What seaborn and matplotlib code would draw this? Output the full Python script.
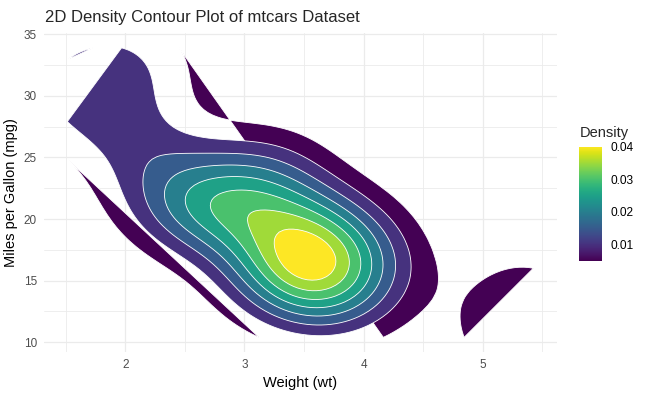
import numpy as np
import matplotlib
matplotlib.use("Agg")
import matplotlib.pyplot as plt
import seaborn as sns
import contourpy

# mtcars: weight (1000 lbs) and miles per gallon
wt = [2.620, 2.875, 2.320, 3.215, 3.440, 3.460, 3.570, 3.190, 3.150, 3.440,
      3.440, 4.070, 3.730, 3.780, 5.250, 5.424, 5.345, 2.200, 1.615, 1.835,
      2.465, 3.520, 3.435, 3.840, 3.845, 1.935, 2.140, 1.513, 3.170, 2.770,
      3.570, 2.780]
mpg = [21.0, 21.0, 22.8, 21.4, 18.7, 18.1, 14.3, 24.4, 22.8, 19.2,
       17.8, 16.4, 17.3, 15.2, 10.4, 10.4, 14.7, 32.4, 30.4, 33.9,
       21.5, 15.5, 15.2, 13.3, 19.2, 27.3, 26.0, 30.4, 15.8, 19.7,
       15.0, 21.4]

# contour breaks (legend runs 0.005 .. 0.04)
levels = [0.005, 0.010, 0.015, 0.020, 0.025, 0.030, 0.035, 0.040]
cbar_ticks = [0.01, 0.02, 0.03, 0.04]
cbar_labels = ["0.01", "0.02", "0.03", "0.04"]

TITLE = "2D Density Contour Plot of mtcars Dataset"


def bw_nrd(v):
    # same rule as MASS::bandwidth.nrd
    q1, q3 = np.percentile(v, [25, 75])
    return 4 * 1.06 * min(np.std(v, ddof=1), (q3 - q1) / 1.34) * len(v) ** -0.2


def kde2d(x, y, n=100):
    # axis aligned gaussian kde on the data range (like MASS::kde2d)
    x = np.asarray(x)
    y = np.asarray(y)
    gx = np.linspace(x.min(), x.max(), n)
    gy = np.linspace(y.min(), y.max(), n)
    hx, hy = bw_nrd(x) / 4, bw_nrd(y) / 4
    dx = np.exp(-0.5 * ((gx[:, None] - x[None, :]) / hx) ** 2) / np.sqrt(2 * np.pi)
    dy = np.exp(-0.5 * ((gy[:, None] - y[None, :]) / hy) ** 2) / np.sqrt(2 * np.pi)
    z = dx @ dy.T / (len(x) * hx * hy)
    return gx, gy, z.T  # z indexed [y, x]


sns.set_theme(style="whitegrid")
plt.rcParams['font.family'] = ['Liberation Sans', 'DejaVu Sans']

fig = plt.figure(figsize=(6.48, 3.97), dpi=100)
ax = fig.add_axes([0.0679, 0.1138, 0.859 - 0.0679, 0.9159 - 0.1138])

gx, gy, z = kde2d(wt, mpg)
gen = contourpy.contour_generator(x=gx, y=gy, z=z, line_type=contourpy.LineType.Separate)

cmap = plt.get_cmap("viridis")
norm = matplotlib.colors.Normalize(vmin=levels[0], vmax=levels[-1])

# every contour line is filled as a polygon (open lines get closed straight)
for lvl in levels:
    for seg in gen.lines(lvl):
        ax.fill(seg[:, 0], seg[:, 1], facecolor=cmap(norm(lvl)),
                edgecolor="white", linewidth=0.6, zorder=2)

xr = max(wt) - min(wt)
yr = max(mpg) - min(mpg)
ax.set_xlim(min(wt) - 0.05 * xr, max(wt) + 0.05 * xr)
ax.set_ylim(min(mpg) - 0.05 * yr, max(mpg) + 0.05 * yr)
ax.set_xticks([2, 3, 4, 5])
ax.set_yticks([10, 15, 20, 25, 30, 35])
ax.set_xticks([1.5, 2.5, 3.5, 4.5, 5.5], minor=True)
ax.set_yticks([12.5, 17.5, 22.5, 27.5, 32.5], minor=True)
ax.set_facecolor("white")
ax.grid(which="major", color="#EBEBEB", linewidth=0.9)
ax.grid(which="minor", color="#EBEBEB", linewidth=0.6)
ax.set_axisbelow(True)
for s in ax.spines.values():
    s.set_visible(False)
ax.tick_params(which="both", length=0, labelsize=8.5, labelcolor="#4D4D4D", pad=5)

ax.set_xlabel("Weight (wt)", fontsize=10.5, labelpad=4, color="black")
ax.set_ylabel("Miles per Gallon (mpg)", fontsize=10.5, labelpad=4, color="black")
fig.text(45 / 648, 1 - 21.7 / 397, TITLE, fontsize=12.0, ha="left", va="baseline")

# colour bar legend
cax = fig.add_axes([579.3 / 648, 1 - 260.5 / 397, 22.4 / 648, 114 / 397])
sm = matplotlib.cm.ScalarMappable(norm=norm, cmap=cmap)
cb = fig.colorbar(sm, cax=cax, ticks=cbar_ticks)
cb.outline.set_visible(False)
cax.minorticks_off()
cax.set_yticklabels(cbar_labels)
cax.tick_params(axis="y", which="major", direction="in", left=True, right=True,
                color="white", length=4, width=0.8, labelsize=8.6, pad=6,
                labelcolor="black")
fig.text(579.3 / 648, 1 - 133 / 397, "Density", fontsize=10.5, va="center", ha="left")

fig.savefig("out.png", dpi=100)
